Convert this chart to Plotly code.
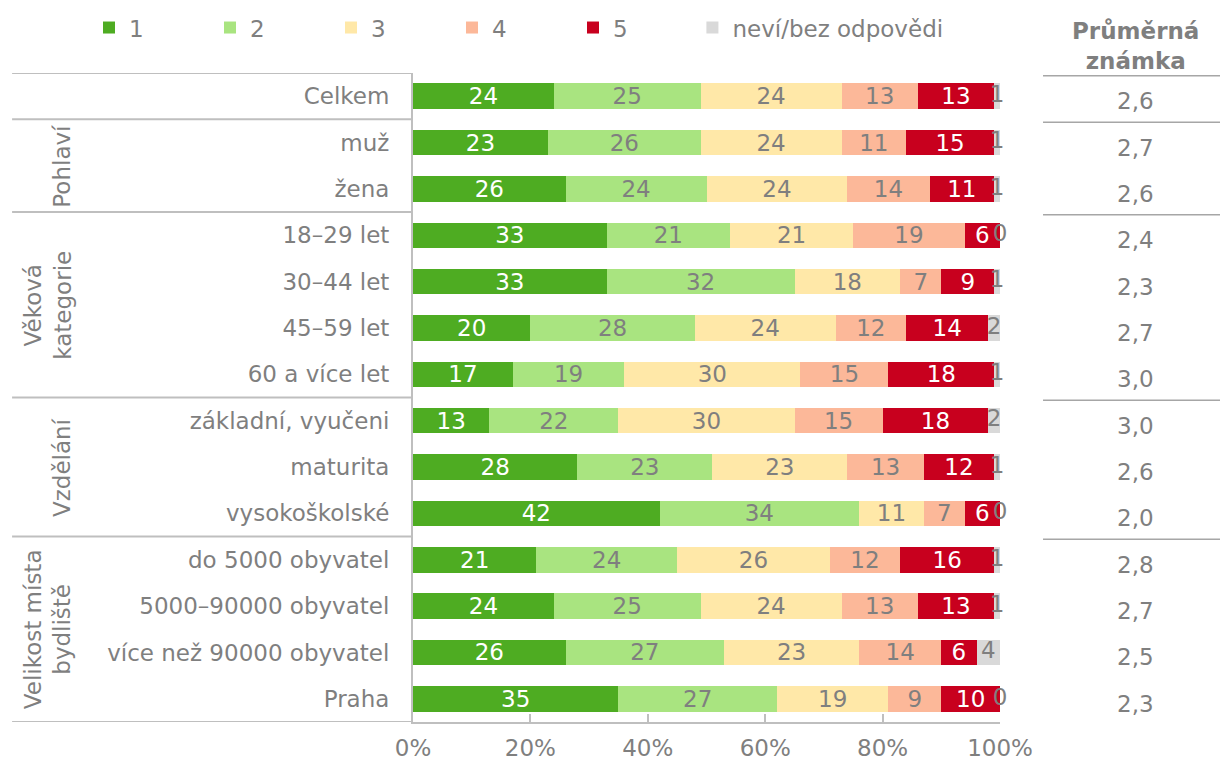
import plotly.graph_objects as go

categories = ["Celkem", "muž", "žena", "18–29 let", "30–44 let", "45–59 let",
              "60 a více let", "základní, vyučeni", "maturita", "vysokoškolské",
              "do 5000 obyvatel", "5000–90000 obyvatel", "více než 90000 obyvatel", "Praha"]

s1 = [24, 23, 26, 33, 33, 20, 17, 13, 28, 42, 21, 24, 26, 35]
s2 = [25, 26, 24, 21, 32, 28, 19, 22, 23, 34, 24, 25, 27, 27]
s3 = [24, 24, 24, 21, 18, 24, 30, 30, 23, 11, 26, 24, 23, 19]
s4 = [13, 11, 14, 19, 7, 12, 15, 15, 13, 7, 12, 13, 14, 9]
s5 = [13, 15, 11, 6, 9, 14, 18, 18, 12, 6, 16, 13, 6, 10]
s6 = [1, 1, 1, 0, 1, 2, 1, 2, 1, 0, 1, 1, 4, 0]

series_names = ["1", "2", "3", "4", "5", "neví/bez odpovědi"]
mean_grade = [2.6, 2.7, 2.6, 2.4, 2.3, 2.7, 3.0, 3.0, 2.6, 2.0, 2.8, 2.7, 2.5, 2.3]

groups = [("Pohlaví", 1.5, -0.598), ("Věková<br>kategorie", 4.5, -0.622),
          ("Vzdělání", 8, -0.598), ("Velikost místa<br>bydliště", 11.5, -0.622)]
group_bounds = [-0.5, 0.5, 2.5, 6.5, 9.5, 13.5]
x_ticks = [0, 20, 40, 60, 80, 100]

colors = ["#4EAC22", "#A9E480", "#FFE8A8", "#FCB899", "#C8001E", "#D9D9D9"]
text_colors = ["#FFFFFF", "#7F7F7F", "#7F7F7F", "#7F7F7F", "#FFFFFF", "#7F7F7F"]
GREY = "#7F7F7F"
FONT = "DejaVu Sans"

fig = go.Figure()
all_series = [s1, s2, s3, s4, s5, s6]
for i, (vals, name) in enumerate(zip(all_series, series_names)):
    is_last = i == len(all_series) - 1
    fig.add_trace(go.Bar(
        y=categories, x=vals, name=name, orientation="h",
        marker=dict(color=colors[i], line=dict(width=0)),
        text=None if is_last else [str(v) for v in vals],
        textposition="none" if is_last else "inside",
        insidetextanchor="middle", textangle=0,
        textfont=dict(color=text_colors[i], size=23, family=FONT),
        hoverinfo="skip",
        legend="legend2" if is_last else "legend",
    ))

# labels of the last (grey) segment, centred on the segment
cum5 = [a + b + c + d + e for a, b, c, d, e in zip(s1, s2, s3, s4, s5)]
fig.add_trace(go.Scatter(
    y=categories, x=[c + v / 2 for c, v in zip(cum5, s6)], mode="text",
    text=[str(v) for v in s6], textposition="middle center",
    textfont=dict(color=GREY, size=23, family=FONT),
    showlegend=False, cliponaxis=False, hoverinfo="skip",
))

shapes = []
for b in group_bounds:
    shapes.append(dict(type="line", xref="paper", yref="y", x0=-0.683, x1=0, y0=b, y1=b,
                       line=dict(color="#BFBFBF", width=2)))
for b in group_bounds[:-1]:
    shapes.append(dict(type="line", xref="paper", yref="y", x0=1.0733, x1=1.40, y0=b + 0.06, y1=b + 0.06,
                       line=dict(color="#A6A6A6", width=1.5)))

annotations = []
for cat, g in zip(categories, mean_grade):
    annotations.append(dict(x=1.23, xref="paper", y=cat, yref="y", yshift=-5,
                            xanchor="center", yanchor="middle",
                            text=f"{g:.1f}".replace(".", ","), showarrow=False,
                            font=dict(size=23, color=GREY, family=FONT)))
annotations.append(dict(x=1.23, xref="paper", y=1.0416, yref="paper", xanchor="center",
                        text="<b>Průměrná<br>známka</b>", showarrow=False,
                        font=dict(size=23, color=GREY, family=FONT), yanchor="middle"))
for label, yc, xp in groups:
    annotations.append(dict(x=xp, xref="paper", y=yc, yref="y", text=label, textangle=-90,
                            showarrow=False, xanchor="center", yanchor="middle",
                            font=dict(size=23, color=GREY, family=FONT)))

legend_common = dict(orientation="h", yanchor="middle", y=1.07, xanchor="left",
                     entrywidth=76, entrywidthmode="pixels", itemwidth=30,
                     font=dict(size=23, color=GREY, family=FONT), traceorder="normal",
                     bgcolor="rgba(0,0,0,0)")

fig.update_layout(
    barmode="stack", bargap=0.45,
    # the page body adds an 8 px offset; the figure is sized to fill the rest of the window
    width=1220, height=755,
    margin=dict(l=405, r=228, t=65, b=41, autoexpand=False),
    paper_bgcolor="white", plot_bgcolor="white",
    font=dict(family=FONT, color=GREY, size=23),
    uniformtext=dict(minsize=23, mode="show"),
    legend=dict(legend_common, x=-0.552),
    legend2=dict(legend_common, x=0.476, entrywidth=260),
    xaxis=dict(range=[0, 100], tickvals=x_ticks, ticktext=[f"{t}%" for t in x_ticks],
               ticks="inside", ticklen=8, tickcolor="#BFBFBF", tickwidth=1.5,
               showline=True, linecolor="#BFBFBF", linewidth=2, showgrid=False, zeroline=False,
               tickfont=dict(size=23, color=GREY, family=FONT), ticklabelstandoff=4),
    yaxis=dict(range=[13.5, -0.5], showline=True, linecolor="#BFBFBF", linewidth=2,
               showgrid=False, ticks="", ticklabelstandoff=17,
               tickfont=dict(size=23, color=GREY, family=FONT)),
    shapes=shapes, annotations=annotations,
)

fig.write_html("out.html")
